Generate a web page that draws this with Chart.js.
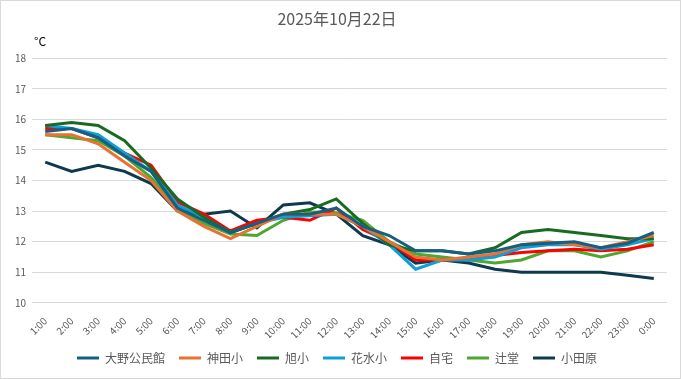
<!DOCTYPE html>
<html><head><meta charset="utf-8">
<script src="https://cdn.jsdelivr.net/npm/chart.js@4.4.1/dist/chart.umd.min.js"></script>
<style>
html,body{margin:0;padding:0;background:#fff;}
#wrap{width:681px;height:379px;box-sizing:border-box;border:1px solid #d9d9d9;position:relative;}
canvas{display:block;}
</style></head><body>
<div id="wrap"><canvas id="c" width="679" height="377"></canvas></div>
<script>
const hours = ["1:00","2:00","3:00","4:00","5:00","6:00","7:00","8:00","9:00","10:00","11:00","12:00","13:00","14:00","15:00","16:00","17:00","18:00","19:00","20:00","21:00","22:00","23:00","0:00"];
const oono    = [15.6,15.7,15.4,14.8,14.3,13.1,12.7,12.3,12.6,12.9,12.9,13.1,12.5,12.2,11.7,11.7,11.6,11.7,11.9,11.95,12.0,11.8,11.95,12.3];
const kanda   = [15.5,15.5,15.2,14.6,14.0,13.0,12.5,12.1,12.5,12.9,12.9,12.9,12.5,12.0,11.5,11.4,11.5,11.6,11.9,12.0,11.9,11.8,12.0,12.2];
const asahi   = [15.8,15.9,15.8,15.3,14.4,13.4,12.8,12.3,12.6,12.9,13.05,13.4,12.6,11.9,11.7,11.7,11.6,11.8,12.3,12.4,12.3,12.2,12.1,12.1];
const hanamizu= [15.8,15.7,15.5,14.9,14.3,13.2,12.8,12.3,12.6,12.8,12.85,12.9,12.5,11.9,11.1,11.4,11.4,11.5,11.8,11.9,11.9,11.75,11.9,12.1];
const jitaku  = [15.7,15.7,15.4,14.9,14.5,13.3,12.9,12.35,12.7,12.8,12.7,13.1,12.4,12.0,11.4,11.4,11.4,11.55,11.65,11.7,11.75,11.7,11.75,11.9];
const tsujido = [15.5,15.4,15.3,14.8,14.1,13.1,12.6,12.25,12.2,12.7,12.97,12.95,12.7,12.0,11.6,11.5,11.4,11.3,11.4,11.7,11.7,11.5,11.7,12.0];
const odawara = [14.6,14.3,14.5,14.3,13.9,13.0,12.9,13.0,12.45,13.2,13.27,12.9,12.2,11.9,11.3,11.4,11.3,11.1,11.0,11.0,11.0,11.0,10.9,10.8];
const seriesNames = ["大野公民館","神田小","旭小","花水小","自宅","辻堂","小田原"];
const yTicks = [10,11,12,13,14,15,16,17,18];
const colors = ["#156082","#E97132","#196B24","#0F9ED5","#FF0000","#4EA72E","#0E3A50"];
const allData = [oono,kanda,asahi,hanamizu,jitaku,tsujido,odawara];

const FONT = "'Noto Sans CJK JP', 'Noto Sans', sans-serif";

const unitPlugin = {
  id:'unit',
  afterDraw(chart){
    const ctx = chart.ctx;
    ctx.save();
    ctx.font = "12px " + FONT;
    ctx.fillStyle = "#000";
    ctx.textBaseline = "middle";
    ctx.textAlign = "left";
    ctx.fillText("°C", 33, 40);
    ctx.restore();
  }
};

new Chart(document.getElementById('c'), {
  type:'line',
  data:{
    labels: hours,
    datasets: seriesNames.map((n,i)=>({
      label:n, data:allData[i], borderColor:colors[i], backgroundColor:colors[i],
      borderWidth:3, pointRadius:0, tension:0, fill:false
    }))
  },
  options:{
    responsive:false, animation:false,
    layout:{padding:{left:6,right:13,top:6,bottom:4}},
    plugins:{
      title:{display:true,text:"2025年10月22日",color:"#595959",font:{family:FONT,size:16,weight:'normal'},padding:{top:2,bottom:30}},
      legend:{position:'bottom',
        labels:{color:"#595959",font:{family:FONT,size:12},boxWidth:22,boxHeight:3,padding:14,
          generateLabels(chart){
            return chart.data.datasets.map((d,i)=>({text:d.label,fillStyle:d.borderColor,strokeStyle:d.borderColor,lineWidth:0,datasetIndex:i,fontColor:"#595959"}));
          }}},
      tooltip:{enabled:false}
    },
    scales:{
      x:{offset:true,grid:{display:false},border:{display:false},
        afterFit(s){ s.height -= 7; },
        ticks:{color:"#595959",font:{family:FONT,size:10},maxRotation:45,minRotation:45,autoSkip:false,padding:4}},
      y:{min:10,max:18,
        afterBuildTicks(s){s.ticks = yTicks.map(v=>({value:v}));},
        afterFit(s){s.width = 25;},
        grid:{color:"#d9d9d9",drawTicks:false},border:{display:false},
        ticks:{color:"#595959",font:{family:FONT,size:10},padding:6}}
    }
  },
  plugins:[unitPlugin]
});
</script></body></html>
